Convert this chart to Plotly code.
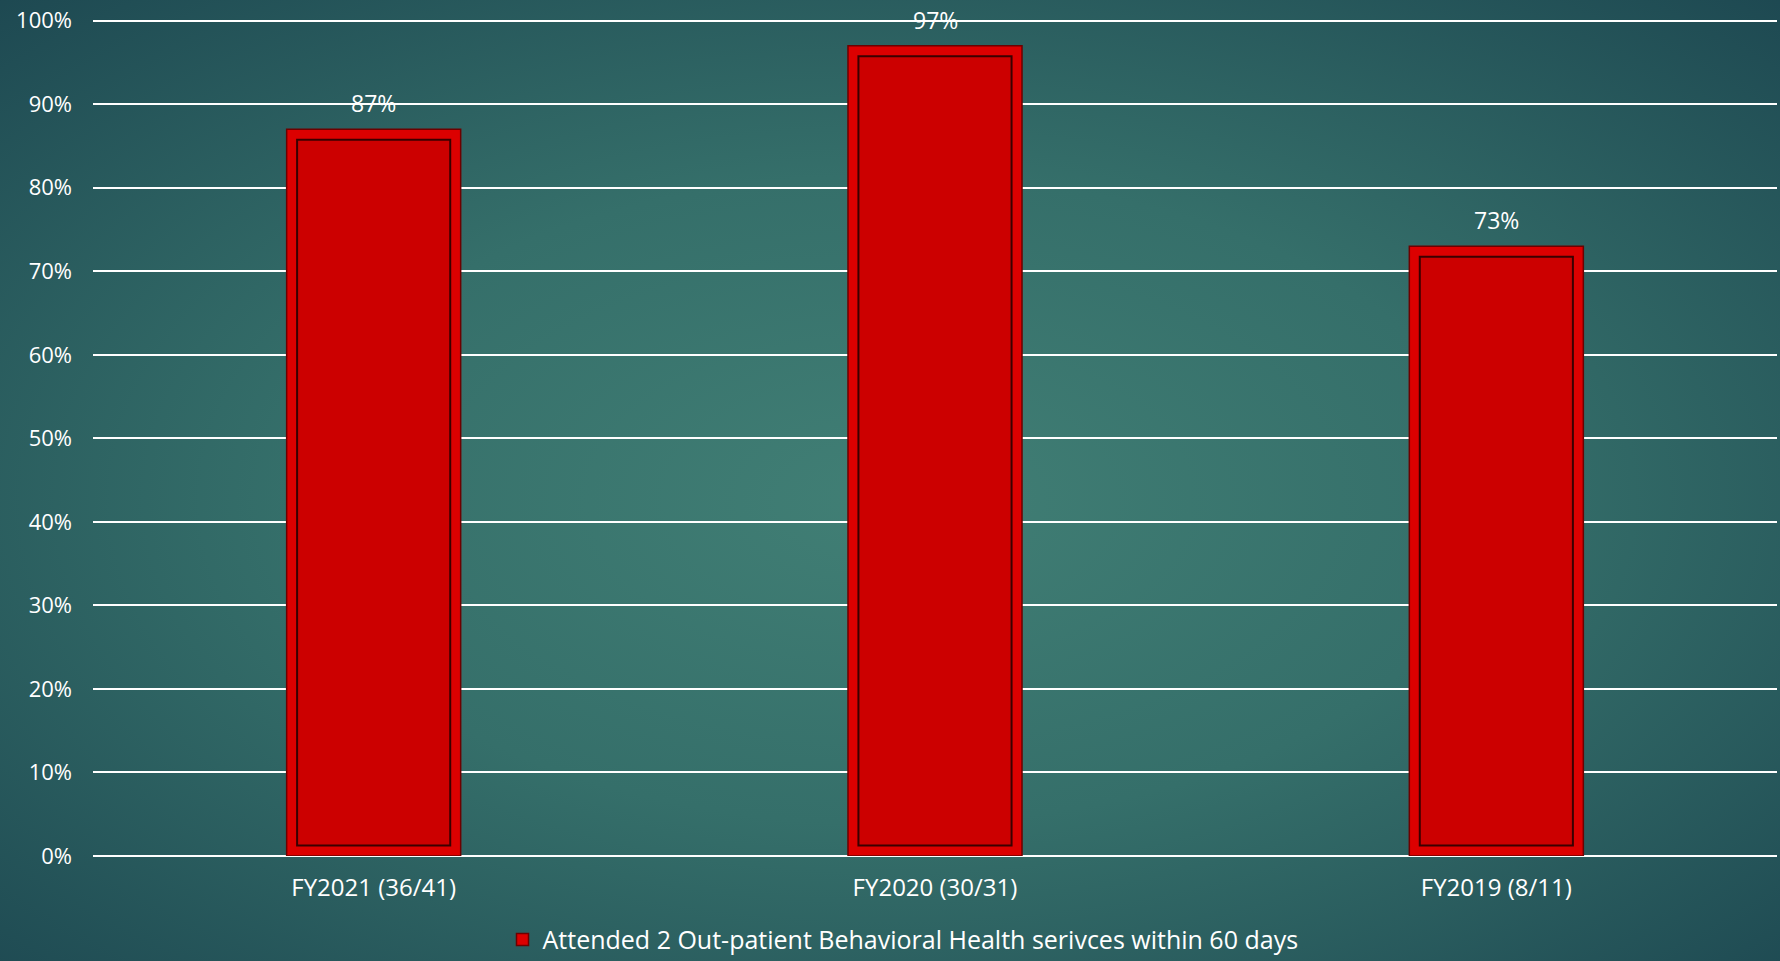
import base64
import plotly.graph_objects as go

# Chart data
categories = ["FY2021 (36/41)", "FY2020 (30/31)", "FY2019 (8/11)"]
attended_pct = [87, 97, 73]
series_name = "Attended 2 Out-patient Behavioral Health serivces within 60 days"
tick_values = [0, 10, 20, 30, 40, 50, 60, 70, 80, 90, 100]
tick_labels = [f"{v}%" for v in tick_values]

FONT = "'Open Sans', Lato, sans-serif"
W, H = 1780, 961
M_L, M_R, M_T, M_B = 93, 3, 19, 105

# Radial teal backdrop as an inline SVG image
bg_svg = f"""<svg xmlns='http://www.w3.org/2000/svg' width='{W}' height='{H}' viewBox='0 0 {W} {H}' preserveAspectRatio='none'>
<defs><radialGradient id='g' cx='50%' cy='52%' r='75%' gradientUnits='objectBoundingBox'>
<stop offset='0' stop-color='#417f75'/>
<stop offset='0.45' stop-color='#356f6a'/>
<stop offset='1' stop-color='#1c4650'/>
</radialGradient></defs>
<rect width='{W}' height='{H}' fill='url(#g)'/></svg>"""
bg_uri = "data:image/svg+xml;base64," + base64.b64encode(bg_svg.encode()).decode()

pw = W - M_L - M_R
ph = H - M_T - M_B

bar_w = 0.31
inset = 1.25  # bevel frame thickness in axis units

fig = go.Figure()

# Outer frame of each bar
fig.add_trace(go.Bar(
    x=categories, y=attended_pct, name=series_name, width=bar_w,
    marker=dict(color="#dc0000", line=dict(color="#6e0000", width=1.5)),
    showlegend=True,
))

# Inner recessed panel
fig.add_trace(go.Bar(
    x=categories,
    y=[v - 2 * inset for v in attended_pct],
    base=[inset] * len(attended_pct),
    width=bar_w * 0.88,
    marker=dict(color="#cc0000", line=dict(color="#3a0000", width=2)),
    showlegend=False, hoverinfo="skip",
))

for c, v in zip(categories, attended_pct):
    fig.add_annotation(x=c, y=v, text=f"{v}%", showarrow=False, yshift=26,
                       font=dict(color="white", size=23, family=FONT))

fig.update_layout(
    width=W, height=H,
    margin=dict(l=M_L, r=M_R, t=M_T, b=M_B, autoexpand=False),
    paper_bgcolor="#2a5c5e", plot_bgcolor="rgba(0,0,0,0)",
    barmode="overlay",
    font=dict(family=FONT, color="white", size=22),
    images=[dict(source=bg_uri, xref="paper", yref="paper",
                 x=-M_L / pw, y=1 + M_T / ph, sizex=W / pw, sizey=H / ph,
                 sizing="stretch", xanchor="left", yanchor="top", layer="below")],
    legend=dict(orientation="h", x=0.481, xanchor="center", y=-0.1, yanchor="middle",
                font=dict(size=25, color="white"), bgcolor="rgba(0,0,0,0)"),
    xaxis=dict(showgrid=False, showline=False, ticks="", ticklabelstandoff=15,
               tickfont=dict(size=24, color="white")),
    yaxis=dict(range=[0, 100.2], tickvals=tick_values, ticktext=tick_labels,
               showgrid=True, gridcolor="white", gridwidth=2,
               zeroline=True, zerolinecolor="white", zerolinewidth=2,
               ticks="", ticklabelstandoff=20, tickfont=dict(size=22, color="white")),
)

fig.write_html("out.html")
